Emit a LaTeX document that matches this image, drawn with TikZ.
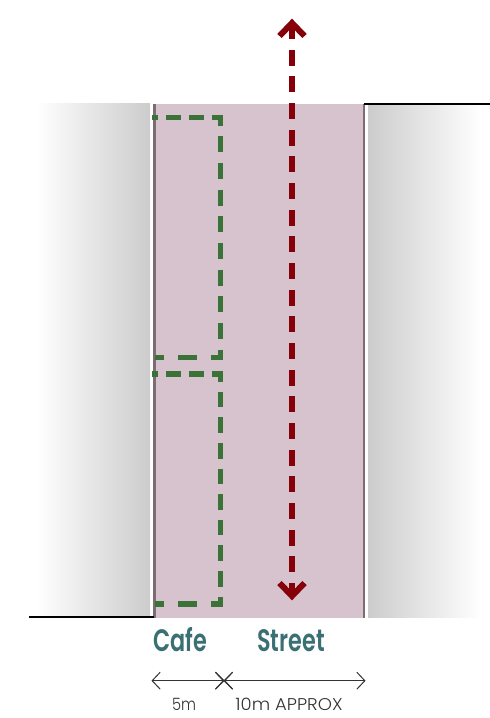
\documentclass[tikz,border=0pt]{standalone}
\usepackage{fontspec}
\setmainfont{Poppins}
\newfontfamily\headfont[FakeStretch=0.72]{Poppins SemiBold}
\newfontfamily\dimfont[FakeStretch=0.86]{Poppins Light}
\newfontfamily\dimwidefont[FakeStretch=1.06]{Poppins Light}
\usetikzlibrary{arrows.meta,shadings}
\definecolor{pinkst}{HTML}{D7C3CD}
\definecolor{edgest}{HTML}{7D6C73}
\definecolor{wallgrey}{HTML}{CCCCCC}
\definecolor{cafegreen}{HTML}{3B7238}
\definecolor{routered}{HTML}{850008}
\definecolor{labelteal}{HTML}{3A6F73}
\definecolor{dimgrey}{HTML}{333333}
\tikzset{
  greendash/.style={draw=cafegreen,line width=5.3pt,line cap=butt},
  routeline/.style={draw=routered,line width=6pt,line cap=butt,dash pattern=on 16pt off 10.67pt},
  routehead/.style={draw=routered,line width=6pt,line cap=butt,line join=miter,miter limit=10},
  dimline/.style={draw=dimgrey,line width=1pt},
  dimarrow/.style={dimline,{Straight Barb[length=8pt,width=17pt,line width=1pt]}-{Straight Barb[length=8pt,width=17pt,line width=1pt]}},
  headlabel/.style={text=labelteal,font=\headfont\fontsize{31}{31}\selectfont,anchor=base,inner sep=0pt},
  dimlabel/.style={text=dimgrey,font=\dimfont\fontsize{17}{17}\selectfont,anchor=base,inner sep=0pt},
  dimwidelabel/.style={text=dimgrey,font=\dimwidefont\fontsize{17}{17}\selectfont,anchor=base,inner sep=0pt},
  edgeline/.style={draw=edgest,line width=2.5pt},
  blackline/.style={draw=black,line width=2.2pt}
}
\begin{document}
\begin{tikzpicture}[x=1pt,y=-1pt]
\useasboundingbox (0,0) rectangle (490,718);
% walls
\fill[left color=white,right color=wallgrey] (36,103) rectangle (150,617);
\fill[left color=wallgrey,right color=white] (368,105) rectangle (481,617);
% street
\fill[pinkst] (154,104) rectangle (364,618);
\draw[edgeline] (154.5,104) -- (154.5,618);
\draw[edgeline] (363.8,104) -- (363.8,618);
\fill[white] (365,105) rectangle (368,618);
\draw[blackline] (364,104) -- (490,104);
\draw[blackline] (29,617) -- (154,617);
% cafe outlines
\draw[greendash,dash pattern=on 15pt off 8pt,dash phase=9pt] (152,117.7) -- (223,117.7);
\draw[greendash,dash pattern=on 16pt off 10.67pt,dash phase=5.5pt] (220.5,115.2) -- (220.5,360);
\draw[greendash,dash pattern=on 19pt off 14pt,dash phase=7pt] (223,357.5) -- (155,357.5);
\draw[greendash,dash pattern=on 15pt off 8pt,dash phase=9pt] (152,374) -- (223,374);
\draw[greendash,dash pattern=on 15.6pt off 10pt,dash phase=5.4pt] (220.5,371.5) -- (220.5,606.5);
\draw[greendash,dash pattern=on 19pt off 14pt,dash phase=7pt] (223,604) -- (155,604);
% route
\coordinate (routetop) at (292,23);
\coordinate (routebottom) at (292,596);
\draw[routeline] (routetop) -- (routebottom);
\draw[routehead] ([shift={(-12.5,13)}]routetop) -- (routetop) -- ([shift={(12.5,13)}]routetop);
\draw[routehead] ([shift={(-12.5,-13)}]routebottom) -- (routebottom) -- ([shift={(12.5,-13)}]routebottom);
% labels
\node[headlabel] (cafe) at (180,651) {Cafe};
\node[headlabel] (street) at (291,651) {Street};
% dimensions
\coordinate (dimleft) at (151.5,680.7);
\coordinate (dimmid) at (224,680.7);
\coordinate (dimright) at (365.5,680.7);
\draw[dimarrow] (dimleft) -- (dimmid);
\draw[dimarrow] (dimmid) -- (dimright);
\draw[dimline] ([shift={(-8.5,-8.5)}]dimmid) -- ([shift={(8.5,8.5)}]dimmid);
\draw[dimline] ([shift={(-8.5,8.5)}]dimmid) -- ([shift={(8.5,-8.5)}]dimmid);
\node[dimlabel] (five) at (184,710) {5m};
\node[dimwidelabel] (ten) at (289,710) {10m APPROX};
\end{tikzpicture}
\end{document}
